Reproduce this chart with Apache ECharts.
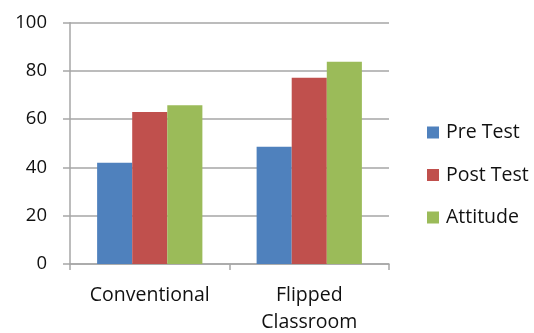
<!DOCTYPE html>
<html>
<head>
<meta charset="utf-8">
<script src="https://cdn.jsdelivr.net/npm/echarts@6/dist/echarts.min.js"></script>
<style>
  html, body { margin: 0; padding: 0; background: #fff; }
  #chart { width: 534px; height: 333px; }
</style>
</head>
<body>
<div id="chart"></div>
<script>
// Scores by teaching method
const categories = ['Conventional', 'Flipped\nClassroom'];
const preTest = [42, 48.6];
const postTest = [63, 77.2];
const attitude = [65.8, 83.8];
const yTicks = [0, 20, 40, 60, 80, 100];

const FONT = '"Open Sans", "Liberation Sans", sans-serif';
const TEXT = '#111';
const GRID = '#a6a6a6';

const chart = echarts.init(document.getElementById('chart'), null, { renderer: 'canvas' });

function bar(name, data, color) {
  return {
    name: name,
    type: 'bar',
    data: data,
    barGap: '0%',
    barCategoryGap: '34%',
    itemStyle: { color: color },
    emphasis: { disabled: true }
  };
}

chart.setOption({
  animation: false,
  grid: { left: 70, right: 145, top: 22.7, bottom: 69, containLabel: false, outerBoundsMode: 'none' },
  legend: {
    orient: 'vertical',
    left: 427,
    top: 122.5,
    padding: 0,
    itemWidth: 12,
    itemHeight: 12,
    itemGap: 22.5,
    icon: 'rect',
    textStyle: { fontFamily: FONT, fontSize: 19.5, color: TEXT, padding: [0, 0, 0, 2] },
    data: ['Pre Test', 'Post Test', 'Attitude']
  },
  xAxis: {
    type: 'category',
    data: categories,
    axisLine: { lineStyle: { color: GRID, width: 1.5 } },
    axisTick: { show: true, length: 6, alignWithLabel: false, lineStyle: { color: GRID, width: 1.5 } },
    axisLabel: { fontFamily: FONT, fontSize: 19.5, color: TEXT, margin: 18, lineHeight: 27 }
  },
  yAxis: {
    type: 'value',
    min: yTicks[0],
    max: yTicks[yTicks.length - 1],
    interval: 20,
    axisLine: { show: true, lineStyle: { color: GRID, width: 1.5 } },
    axisTick: { show: true, length: 7, lineStyle: { color: GRID, width: 1.5 } },
    splitLine: { lineStyle: { color: GRID, width: 1.5 } },
    axisLabel: { fontFamily: FONT, fontSize: 18.5, color: TEXT, margin: 23 }
  },
  series: [
    bar('Pre Test', preTest, '#4F81BD'),
    bar('Post Test', postTest, '#C0504D'),
    bar('Attitude', attitude, '#9BBB59')
  ]
});
</script>
</body>
</html>
